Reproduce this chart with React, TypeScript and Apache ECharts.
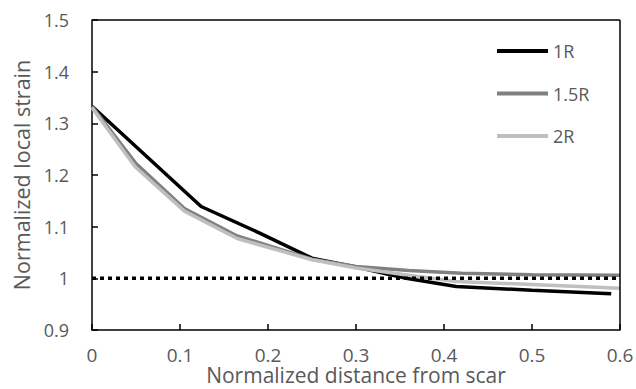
import React, { useEffect, useRef } from "react";
import * as echarts from "echarts";

const seriesNames = ["1R", "1.5R", "2R"];
const r1: number[][] = [[0, 1.333], [0.124, 1.139], [0.19, 1.088], [0.25, 1.039], [0.3, 1.022], [0.357, 1.0], [0.414, 0.984], [0.5, 0.977], [0.59, 0.97]];
const r15: number[][] = [[0, 1.333], [0.05, 1.222], [0.105, 1.135], [0.165, 1.082], [0.25, 1.037], [0.3, 1.023], [0.36, 1.015], [0.42, 1.01], [0.5, 1.007], [0.6, 1.006]];
const r2: number[][] = [[0, 1.33], [0.049, 1.216], [0.105, 1.13], [0.165, 1.077], [0.25, 1.036], [0.3, 1.02], [0.36, 1.006], [0.414, 0.994], [0.5, 0.988], [0.6, 0.981]];
const refLine: number[][] = [[0, 1.0], [0.6, 1.0]];

export default function App() {
  const ref = useRef<HTMLDivElement>(null);
  useEffect(() => {
    const chart = echarts.init(ref.current!, null, { renderer: "svg" });
    const font = "'Open Sans', sans-serif";
    const labelColor = "#595959";
    chart.setOption({
      animation: false,
      backgroundColor: "#fff",
      textStyle: { fontFamily: font },
      grid: { left: 92, right: 16, top: 20, bottom: 59, containLabel: false, outerBoundsMode: "none", show: false },
      legend: {
        data: seriesNames,
        orient: "vertical",
        left: 492,
        top: 36,
        icon: "rect",
        itemWidth: 51,
        itemHeight: 4,
        itemGap: 22.5,
        textStyle: { color: labelColor, fontSize: 18, fontFamily: font, lineHeight: 20 },
      },
      xAxis: {
        type: "value",
        min: 0,
        max: 0.6,
        interval: 0.1,
        name: "Normalized distance from scar",
        nameLocation: "middle",
        nameGap: 34,
        nameMoveOverlap: false,
        nameTextStyle: { color: labelColor, fontSize: 21, fontFamily: font, lineHeight: 22 },
        axisLine: { show: true, lineStyle: { color: "#000", width: 1.5 } },
        axisTick: { show: true, inside: true, length: 6, lineStyle: { color: "#000", width: 1.5 } },
        axisLabel: { color: labelColor, fontSize: 19, margin: 15, fontFamily: font, lineHeight: 19 },
        splitLine: { show: false },
      },
      yAxis: {
        type: "value",
        min: 0.9,
        max: 1.5,
        interval: 0.1,
        name: "Normalized local strain",
        nameLocation: "middle",
        nameGap: 60,
        nameMoveOverlap: false,
        nameTextStyle: { color: labelColor, fontSize: 21.5, fontFamily: font },
        axisLine: { show: true, lineStyle: { color: "#000", width: 1.5 } },
        axisTick: { show: true, inside: true, length: 6, lineStyle: { color: "#000", width: 1.5 } },
        axisLabel: { color: labelColor, fontSize: 18, margin: 23, fontFamily: font },
        splitLine: { show: false },
      },
      series: [
        {
          name: "1R",
          type: "line",
          data: r1,
          showSymbol: false,
          symbol: "none",
          lineStyle: { color: "#000", width: 3.5 },
          itemStyle: { color: "#000" },
          z: 2,
        },
        {
          name: "1.5R",
          type: "line",
          data: r15,
          showSymbol: false,
          symbol: "none",
          lineStyle: { color: "#808080", width: 3.5 },
          itemStyle: { color: "#808080" },
          z: 3,
        },
        {
          name: "2R",
          type: "line",
          data: r2,
          showSymbol: false,
          symbol: "none",
          lineStyle: { color: "#bfbfbf", width: 3.5 },
          itemStyle: { color: "#bfbfbf" },
          z: 4,
        },
        {
          name: "ref",
          type: "line",
          data: refLine,
          showSymbol: false,
          symbol: "none",
          silent: true,
          lineStyle: { color: "#000", width: 3.5, type: [4, 4] },
          z: 5,
        },
        {
          name: "frame",
          type: "line",
          data: [],
          markLine: {
            silent: true,
            symbol: "none",
            label: { show: false },
            lineStyle: { color: "#000", width: 1.5, type: "solid" },
            data: [{ yAxis: 1.5 }, { xAxis: 0.6 }],
          },
        },
      ],
    });
    return () => chart.dispose();
  }, []);
  return <div ref={ref} style={{ position: "absolute", left: 0, top: 0, width: 636, height: 389 }} />;
}
